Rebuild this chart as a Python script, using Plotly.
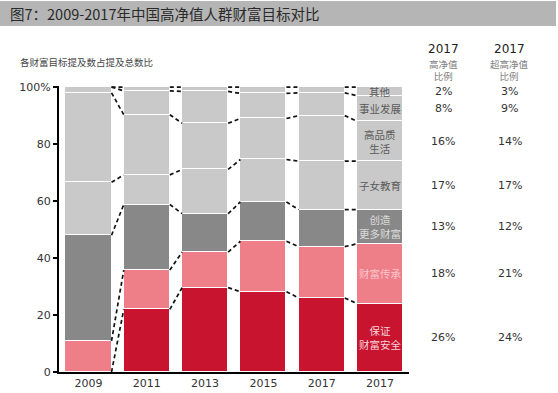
import plotly.graph_objects as go

# ---------------- data ----------------
tick_labels = ["2009", "2011", "2013", "2015", "2017", "2017"]
categories = ["保证财富安全", "财富传承", "创造更多财富", "子女教育", "高品质生活", "事业发展", "其他"]
bar_labels = ["保证<br>财富安全", "财富传承", "创造<br>更多财富", "子女教育", "高品质<br>生活", "事业发展", "其他"]

# values per category, one per bar (last bar = 2017 超高净值)
v_safety = [0.0, 22.0, 29.6, 28.2, 26, 24]
v_inherit = [10.9, 13.8, 12.5, 17.7, 18, 21]
v_create = [37.1, 23.0, 13.5, 13.8, 13, 12]
v_children = [18.6, 10.4, 15.5, 14.9, 17, 17]
v_quality = [31.4, 21.1, 16.2, 14.4, 16, 14]
v_career = [2.0, 8.4, 11.2, 8.8, 8, 9]
v_other = [0.0, 1.3, 1.5, 2.2, 2, 3]

hnw_2017 = ["26%", "18%", "13%", "17%", "16%", "8%", "2%"]
uhnw_2017 = ["24%", "21%", "12%", "17%", "14%", "9%", "3%"]

series = [v_safety, v_inherit, v_create, v_children, v_quality, v_career, v_other]
colors = ["#C8142F", "#EE7E88", "#888888", "#C9C9C9", "#C9C9C9", "#C9C9C9", "#C9C9C9"]
label_colors = ["#F6D3D8", "#F9C6CB", "#DCDCDC", "#5A5A5A", "#5A5A5A", "#5A5A5A", "#5A5A5A"]

xs = list(range(len(tick_labels)))
bar_w = 0.79

fig = go.Figure()
for name, vals, col in zip(categories, series, colors):
    fig.add_trace(go.Bar(
        x=xs, y=vals, name=name, width=bar_w,
        marker=dict(color=col, line=dict(color="white", width=1.2)),
        showlegend=False, hoverinfo="skip"))

# cumulative boundaries
n = len(xs)
cum = []
for i in range(n):
    c, acc = [], 0.0
    for s in series:
        acc += s[i]
        c.append(acc)
    cum.append(c)

lx, ly = [], []
for i in range(n - 1):
    for k in range(len(series)):
        lx += [xs[i] + bar_w / 2, xs[i + 1] - bar_w / 2, None]
        ly += [cum[i][k], cum[i + 1][k], None]
fig.add_trace(go.Scatter(x=lx, y=ly, mode="lines",
                         line=dict(color="#111111", width=1.7, dash="4px,3px"),
                         showlegend=False, hoverinfo="skip"))

plot_l, plot_r, plot_t, plot_b = 59, 149, 86, 21
pw = 558 - plot_l - plot_r
ph = 393 - plot_t - plot_b


def px(x):
    return (x - plot_l) / pw


def py(y):
    return (393 - y - plot_b) / ph


annotations = []
last = n - 1
acc = 0.0
for k, s in enumerate(series):
    center = acc + s[last] / 2
    acc += s[last]
    annotations.append(dict(x=xs[last], y=center, xref="x", yref="y", text=bar_labels[k],
                            showarrow=False, xanchor="center", yanchor="middle",
                            font=dict(family="Noto Sans CJK SC", size=10.5, color=label_colors[k])))
    annotations.append(dict(x=px(443), y=center, xref="paper", yref="y", text=hnw_2017[k],
                            showarrow=False, xanchor="center", yanchor="middle",
                            font=dict(family="DejaVu Sans", size=11, color="#333333")))
    annotations.append(dict(x=px(510), y=center, xref="paper", yref="y", text=uhnw_2017[k],
                            showarrow=False, xanchor="center", yanchor="middle",
                            font=dict(family="DejaVu Sans", size=11, color="#333333")))

# column headers
for xp, sub in [(443, "高净值<br>比例"), (510, "超高净值<br>比例")]:
    annotations.append(dict(x=px(xp), y=py(49), xref="paper", yref="paper", text="2017",
                            showarrow=False, xanchor="center", yanchor="middle", borderpad=0,
                            font=dict(family="DejaVu Sans", size=12, color="#222222")))
    annotations.append(dict(x=px(xp), y=py(70), xref="paper", yref="paper", text=sub,
                            showarrow=False, xanchor="center", yanchor="middle", borderpad=0,
                            font=dict(family="Noto Sans CJK SC", size=9.5, color="#808080")))

# subtitle
annotations.append(dict(x=px(18), y=py(62), xref="paper", yref="paper",
                        xanchor="left", yanchor="middle",
                        text="各财富目标提及数占提及总数比", showarrow=False,
                        font=dict(family="Noto Sans CJK SC", size=9.5, color="#444444")))
# title
annotations.append(dict(x=px(8), y=py(13.5), xref="paper", yref="paper",
                        xanchor="left", yanchor="middle",
                        text="图7：2009-2017年中国高净值人群财富目标对比", showarrow=False,
                        font=dict(family="Noto Sans CJK SC", size=14.5, color="#2A2A2A")))

fig.update_layout(
    width=558, height=393,
    margin=dict(l=plot_l, r=plot_r, t=plot_t, b=plot_b),
    barmode="stack", bargap=0,
    plot_bgcolor="white", paper_bgcolor="white",
    annotations=annotations,
    shapes=[dict(type="rect", xref="paper", yref="paper",
                 x0=px(0), x1=px(556),
                 y0=py(26), y1=py(1),
                 fillcolor="#B5B5B5", line=dict(width=0), layer="below")],
    xaxis=dict(range=[-0.506, 5.497], tickvals=xs, ticktext=tick_labels,
               showline=True, linecolor="black", linewidth=2, ticks="",
               showgrid=False, zeroline=False, automargin=False,
               tickfont=dict(family="DejaVu Sans", size=11, color="#333333")),
    yaxis=dict(range=[0, 100.4], tickvals=[0, 20, 40, 60, 80, 100],
               ticktext=["0", "20", "40", "60", "80", "100%"],
               showline=True, linecolor="black", linewidth=2,
               ticks="outside", ticklen=4, tickwidth=1.5, tickcolor="black",
               showgrid=False, zeroline=False, automargin=False,
               tickfont=dict(family="DejaVu Sans", size=11, color="#333333")),
)

fig.write_html("out.html", config={"displayModeBar": False},
               post_script="document.body.style.margin='0px';document.body.style.padding='0px';")
